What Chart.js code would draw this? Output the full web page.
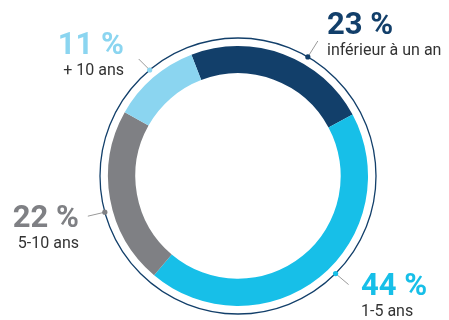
<!DOCTYPE html>
<html lang="fr">
<head>
  <meta charset="UTF-8">
  <title>Échéances</title>
  <script src="https://cdn.jsdelivr.net/npm/chart.js"></script>
  <style>
    html, body { margin: 0; padding: 0; background: #fff; }
    #wrap { width: 449px; height: 320px; position: relative; }
  </style>
</head>
<body>
  <div id="wrap"><canvas id="maturityChart" width="449" height="320"></canvas></div>

  <script>
    // répartition par échéance (en %)
    const categories = ['inférieur à un an', '1-5 ans', '5-10 ans', '+ 10 ans'];
    const shares = [23, 44, 22, 11];
    const colors = ['#123f6a', '#17bfe8', '#7f8084', '#8bd5f0'];

    // placement of each callout: dot angle shift (deg) from the slice middle,
    // leader end relative to the dot, text anchor relative to the centre
    const callouts = [
      { shift: 10, lead: [10, -16], text: [89, -142], align: 'left' },
      { shift: -6, lead: [13, 11], text: [123, 119], align: 'left' },
      { shift: -5, lead: [-17, 4], text: [-159, 51], align: 'right' },
      { shift: 1, lead: [-11, -11], text: [-114, -122], align: 'right' }
    ];

    const FONT = 'Roboto, "DejaVu Sans", sans-serif';

    const ringPlugin = {
      id: 'ringCallouts',
      afterDatasetsDraw(chart) {
        const ctx = chart.ctx;
        const arcs = chart.getDatasetMeta(0).data;
        const cx = arcs[0].x, cy = arcs[0].y;
        const r = arcs[0].outerRadius + 8;

        ctx.save();
        // thin outer circle
        ctx.beginPath();
        ctx.arc(cx, cy, r, 0, Math.PI * 2);
        ctx.strokeStyle = '#123f6a';
        ctx.lineWidth = 1.3;
        ctx.stroke();

        arcs.forEach((arc, i) => {
          const c = callouts[i];
          const mid = (arc.startAngle + arc.endAngle) / 2 + c.shift * Math.PI / 180;
          const dx = cx + Math.cos(mid) * r;
          const dy = cy + Math.sin(mid) * r;

          // leader line
          ctx.beginPath();
          ctx.moveTo(dx, dy);
          ctx.lineTo(dx + c.lead[0], dy + c.lead[1]);
          ctx.strokeStyle = '#9a9a9a';
          ctx.lineWidth = 1;
          ctx.stroke();

          // dot on the circle
          ctx.beginPath();
          ctx.arc(dx, dy, 2.6, 0, Math.PI * 2);
          ctx.fillStyle = colors[i];
          ctx.fill();

          // value and category
          const tx = cx + c.text[0], ty = cy + c.text[1];
          ctx.textAlign = c.align;
          ctx.textBaseline = 'alphabetic';
          ctx.fillStyle = colors[i];
          ctx.font = 'bold 31px ' + FONT;
          ctx.fillText(shares[i] + ' %', tx, ty);
          ctx.fillStyle = '#333333';
          ctx.font = '16px ' + FONT;
          ctx.fillText(categories[i], tx, ty + 21);
        });
        ctx.restore();
      }
    };

    new Chart(document.getElementById('maturityChart'), {
      type: 'doughnut',
      data: {
        labels: categories,
        datasets: [{
          data: shares,
          backgroundColor: colors,
          borderWidth: 0
        }]
      },
      options: {
        responsive: false,
        animation: false,
        rotation: -21,
        cutout: '79%',
        layout: { padding: { left: 108, right: 81, top: 46, bottom: 14 } },
        plugins: {
          legend: { display: false },
          tooltip: { enabled: false }
        }
      },
      plugins: [ringPlugin]
    });
  </script>
</body>
</html>
